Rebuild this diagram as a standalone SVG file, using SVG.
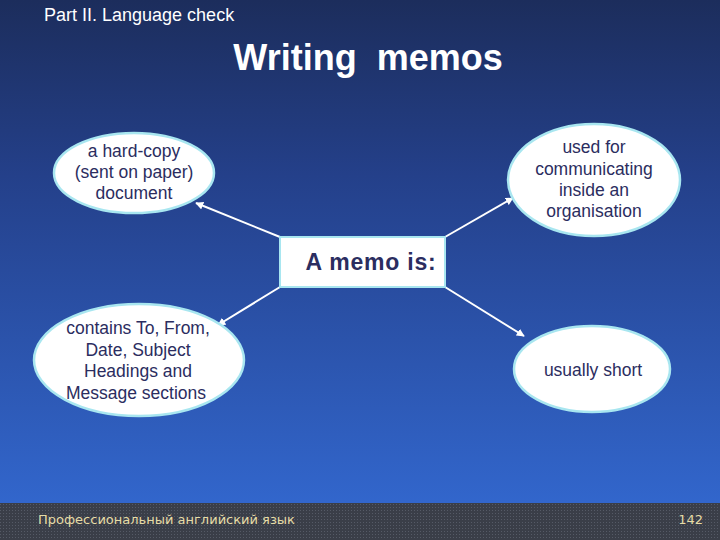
<svg xmlns="http://www.w3.org/2000/svg" width="720" height="540" viewBox="0 0 720 540">
<defs>
<linearGradient id="bg" x1="0" y1="0" x2="0" y2="1">
<stop offset="0" stop-color="#1c2d5c"/>
<stop offset="0.35" stop-color="#24408a"/>
<stop offset="1" stop-color="#3266cc"/>
</linearGradient>
<pattern id="dots" width="3" height="3" patternUnits="userSpaceOnUse">
<rect width="3" height="3" fill="#3a3e48"/>
<rect width="1" height="1" fill="#555a66"/>
</pattern>
<marker id="ah" viewBox="0 0 10 10" refX="9" refY="5" markerWidth="8" markerHeight="8" markerUnits="userSpaceOnUse" orient="auto">
<path d="M0,0 L10,5 L0,10 z" fill="#ffffff"/>
</marker>
<style>
.node{fill:#ffffff;stroke:#a8e6f0;stroke-width:2.5}
.nt{font-family:"Liberation Sans",Arial,sans-serif;font-size:17.5px;fill:#2b2d60;text-anchor:middle}
.conn line{stroke:#ffffff;stroke-width:2;marker-end:url(#ah)}
.foot{font-family:"DejaVu Sans",sans-serif;font-size:13px;fill:#e6dca6}
</style>
</defs>
<rect width="720" height="503" fill="url(#bg)"/>
<rect y="503" width="720" height="37" fill="url(#dots)"/>
<text x="44" y="21" font-family="Liberation Sans,Arial,sans-serif" font-size="18" fill="#ffffff">Part II. Language check</text>
<text x="368" y="70" font-family="Liberation Sans,Arial,sans-serif" font-size="36" font-weight="bold" fill="#ffffff" text-anchor="middle" xml:space="preserve">Writing  memos</text>
<g id="connectors" class="conn">
<line x1="280" y1="237" x2="196" y2="203"/>
<line x1="445" y1="237" x2="513" y2="198"/>
<line x1="280" y1="287" x2="218" y2="325"/>
<line x1="445" y1="287" x2="524" y2="336"/>
</g>
<g id="center">
<rect x="280" y="237" width="165" height="50" fill="#ffffff" stroke="#a8e6f0" stroke-width="2"/>
<text x="371" y="270" font-family="Liberation Sans,Arial,sans-serif" font-size="23" font-weight="bold" fill="#2b2d60" text-anchor="middle" letter-spacing="0.8">A memo is:</text>
</g>
<g id="hardcopy">
<ellipse class="node" cx="134" cy="173" rx="80" ry="40"/>
<text class="nt" x="134" y="157">a hard-copy</text>
<text class="nt" x="134" y="178">(sent on paper)</text>
<text class="nt" x="134" y="199">document</text>
</g>
<g id="used">
<ellipse class="node" cx="594" cy="180" rx="86" ry="56"/>
<text class="nt" x="594" y="153">used for</text>
<text class="nt" x="594" y="175">communicating</text>
<text class="nt" x="594" y="196">inside an</text>
<text class="nt" x="594" y="217">organisation</text>
</g>
<g id="contains">
<ellipse class="node" cx="139" cy="360" rx="105" ry="56"/>
<text class="nt" x="138" y="334">contains To, From,</text>
<text class="nt" x="138" y="356">Date, Subject</text>
<text class="nt" x="138" y="377">Headings and</text>
<text class="nt" x="136" y="399">Message sections</text>
</g>
<g id="short">
<ellipse class="node" cx="592" cy="369" rx="78" ry="43"/>
<text class="nt" x="593" y="376">usually short</text>
</g>
<text class="foot" x="38" y="524">Профессиональный английский язык</text>
<text class="foot" x="703" y="524" text-anchor="end">142</text>
</svg>
